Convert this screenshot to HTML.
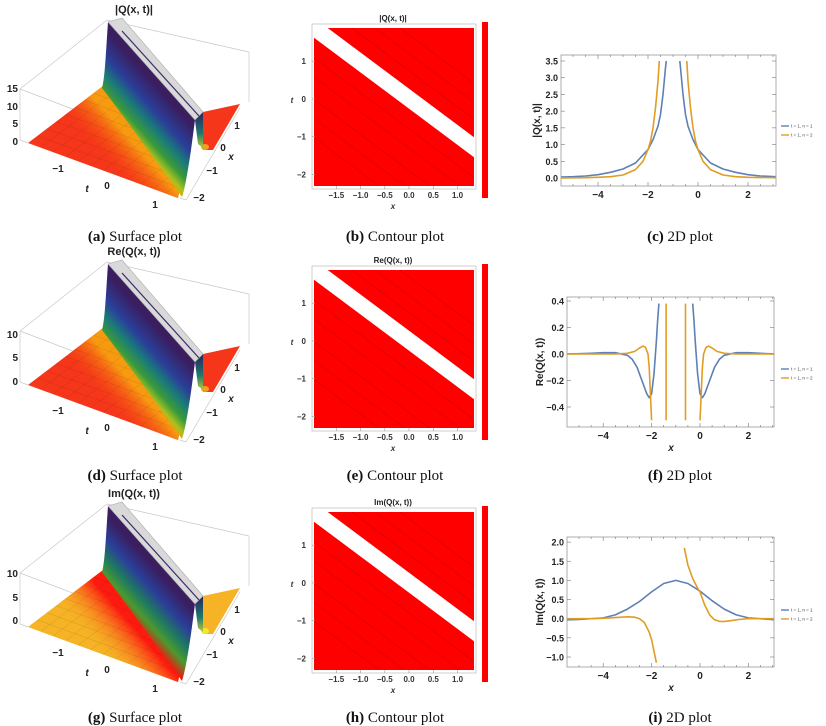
<!DOCTYPE html>
<html><head><meta charset="utf-8">
<style>
html,body{margin:0;padding:0;background:#fff;}
#root{position:relative;width:826px;height:726px;overflow:hidden;font-family:"Liberation Sans",sans-serif;}
svg{position:absolute;left:0;top:0;}
.cap{font-family:"Liberation Serif",serif;font-size:15px;fill:#111;}
.tk{font-family:"Liberation Sans",sans-serif;font-weight:bold;font-size:10px;fill:#222;}
.tk9{font-family:"Liberation Sans",sans-serif;font-weight:bold;font-size:9px;fill:#222;}
.tks{font-family:"Liberation Sans",sans-serif;font-weight:bold;font-size:8px;fill:#333;}
</style></head>
<body>
<div id="root">
<svg id="fig" width="826" height="726" viewBox="0 0 826 726">
<defs>
<linearGradient id="wallg" gradientUnits="userSpaceOnUse" x1="122" y1="148" x2="172" y2="103">
<stop offset="0" stop-color="#ff4a10"/><stop offset="0.12" stop-color="#f8a000"/><stop offset="0.25" stop-color="#a8c020"/><stop offset="0.38" stop-color="#3a9a3a"/><stop offset="0.55" stop-color="#1a7a7a"/><stop offset="0.72" stop-color="#2a3f99"/><stop offset="1" stop-color="#3a1e60"/>
</linearGradient>
<linearGradient id="wallg2" gradientUnits="userSpaceOnUse" x1="122" y1="148" x2="172" y2="103">
<stop offset="0" stop-color="#ff1a10"/><stop offset="0.2" stop-color="#e62010"/><stop offset="0.38" stop-color="#4a9a30"/><stop offset="0.55" stop-color="#1f7a60"/><stop offset="0.75" stop-color="#2a3f99"/><stop offset="1" stop-color="#3a1e60"/>
</linearGradient>
<linearGradient id="slopeR" gradientUnits="userSpaceOnUse" x1="98" y1="155" x2="124" y2="132">
<stop offset="0" stop-color="#f53a12" stop-opacity="0"/><stop offset="1" stop-color="#f79a10"/>
</linearGradient>
<linearGradient id="slopeY" gradientUnits="userSpaceOnUse" x1="92" y1="160" x2="124" y2="132">
<stop offset="0" stop-color="#f5b325" stop-opacity="0"/><stop offset="1" stop-color="#ff1a10"/>
</linearGradient>
<linearGradient id="darkface" x1="0" y1="0" x2="0" y2="1">
<stop offset="0" stop-color="#2a2060"/><stop offset="0.6" stop-color="#1d7a70"/><stop offset="1" stop-color="#c0c830"/>
</linearGradient>
<clipPath id="floorclip"><polygon points="28,143 103,86 110,80 188,150 178,198"/></clipPath>
<clipPath id="clipC"><rect x="561" y="55" width="215" height="131"/></clipPath>
<clipPath id="clipF"><rect x="567" y="297" width="207" height="130"/></clipPath>
<clipPath id="clipI"><rect x="567" y="537" width="207" height="130"/></clipPath>
</defs>
</svg>
</div>
<script>
// ---------- data: contour band (data coords t = slope*x + offset) ----------
const bandSlope = -0.96;
const bandOffsets = [-0.26, 0.27];
const contourLevelOffsets = [-2.9, -2.4, -1.9, -1.3, -0.8, 0.75, 1.2, 1.7];
const contourXTicks = [-1.5, -1.0, -0.5, 0.0, 0.5, 1.0];
const contourTTicks = [1, 0, -1, -2];

// ---------- data: panel (c) |Q| ----------
const cBlueLX = [-5.5,-5,-4.5,-4,-3.5,-3,-2.5,-2,-1.8,-1.6,-1.5,-1.4,-1.3,-1.27];
const cBlueLY = [0.03,0.04,0.06,0.1,0.17,0.27,0.45,0.85,1.15,1.55,1.9,2.5,3.3,3.5];
const cBlueRX = [-0.73,-0.7,-0.6,-0.5,-0.4,-0.2,0,0.5,1,1.5,2,2.5,3.1];
const cBlueRY = [3.5,3.3,2.5,1.9,1.55,1.15,0.85,0.45,0.27,0.17,0.1,0.06,0.04];
const cOrLX = [-5.5,-4.5,-4,-3.5,-3,-2.5,-2.2,-2,-1.9,-1.8,-1.7,-1.6,-1.55];
const cOrLY = [0,0.01,0.02,0.04,0.09,0.25,0.5,0.85,1.1,1.5,2.1,2.9,3.5];
const cOrRX = [-0.45,-0.4,-0.3,-0.2,-0.1,0,0.2,0.5,1,1.5,2,3.1];
const cOrRY = [3.5,2.9,2.1,1.5,1.1,0.85,0.5,0.25,0.09,0.04,0.02,0.01];
const cYTicks = [0.0,0.5,1.0,1.5,2.0,2.5,3.0,3.5];

// ---------- data: panel (f) Re ----------
const fBlueLX = [-5.5,-4.5,-4,-3.5,-3,-2.8,-2.6,-2.4,-2.2,-2.1,-2.0,-1.9,-1.8,-1.75,-1.7];
const fBlueLY = [0,0.005,0.01,0.01,-0.01,-0.04,-0.1,-0.2,-0.3,-0.33,-0.3,-0.15,0.1,0.25,0.38];
const fBlueRX = [-0.3,-0.25,-0.2,-0.1,0,0.1,0.2,0.4,0.6,0.8,1,1.5,2,2.5,3.1];
const fBlueRY = [0.38,0.25,0.1,-0.15,-0.3,-0.33,-0.3,-0.2,-0.1,-0.04,-0.01,0.01,0.01,0.005,0];
const fOrLX = [-5.5,-3.5,-3,-2.7,-2.5,-2.35,-2.25,-2.15,-2.1,-2.05,-2.0];
const fOrLY = [0,0,0.005,0.02,0.045,0.06,0.05,0,-0.1,-0.3,-0.5];
const fOrRX = [0,0.05,0.1,0.15,0.25,0.35,0.5,0.7,1,1.5,3.1];
const fOrRY = [-0.5,-0.3,-0.1,0,0.05,0.06,0.045,0.02,0.005,0,0];
const fOrSpikeX = [-1.4, -0.6];
const fOrSpikeY = [0.38, -0.5];
const fYTicks = [-0.4,-0.2,0.0,0.2,0.4];

// ---------- data: panel (i) Im ----------
const iBlueX = [-5.5,-5,-4,-3.5,-3,-2.5,-2,-1.5,-1,-0.5,0,0.5,1,1.5,2,3.1];
const iBlueY = [-0.03,-0.02,0.02,0.1,0.25,0.45,0.7,0.92,1.0,0.92,0.72,0.47,0.25,0.1,0.02,-0.03];
const iOrLX = [-5.5,-4.5,-4,-3.5,-3,-2.7,-2.5,-2.3,-2.1,-2,-1.9,-1.8];
const iOrLY = [0,0,0.01,0.03,0.05,0.04,0,-0.1,-0.35,-0.55,-0.85,-1.15];
const iOrRX = [-0.65,-0.5,-0.3,-0.1,0,0.2,0.4,0.6,0.8,1,1.3,1.6,2,3.1];
const iOrRY = [1.85,1.4,1.05,0.8,0.7,0.35,0.1,-0.03,-0.07,-0.07,-0.05,-0.02,0,0];
const iYTicks = [-1.0,-0.5,0.0,0.5,1.0,1.5,2.0];
const xTicks2D = [-4,-2,0,2];
const legendLabels = ["t = 1, n = 1","t = 1, n = 2"];

const NS = "http://www.w3.org/2000/svg";
const fig = document.getElementById('fig');
function mk(tag, attrs, parent, text){
  const e = document.createElementNS(NS, tag);
  for (const k in attrs) e.setAttribute(k, attrs[k]);
  if (text !== undefined) e.textContent = text;
  (parent || fig).appendChild(e);
  return e;
}
function grp(name, tr){
  const g = mk('g', tr ? {transform: tr} : {});
  
  
  return g;
}

// ---------------- captions ----------------
const caps = [
  ["(a)"," Surface plot",135,241],["(b)"," Contour plot",395,241],["(c)"," 2D plot",680,241],
  ["(d)"," Surface plot",135,480],["(e)"," Contour plot",395,480],["(f)"," 2D plot",680,480],
  ["(g)"," Surface plot",135,722],["(h)"," Contour plot",395,722],["(i)"," 2D plot",680,722]];
caps.forEach(c => {
  const t = mk('text', {x:c[2], y:c[3], 'text-anchor':'middle', class:'cap'});
  
  
  mk('tspan', {'font-weight':'bold'}, t, c[0]);
  mk('tspan', {}, t, c[1]);
});

// ---------------- surface plots ----------------
function surface(dy, key, title, zt, zy, yellowFloor){
  const g = grp('surface-plot-' + key, 'translate(0,' + dy + ')');
  const box = [[20,89,107,20],[107,20,249,52],[249,52,249,102],[20,89,20,140],[20,140,28,143],[180,198,186,200],[186,200,240,108],[20,89,180,150]];
  box.forEach(b => { const l = mk('line',{x1:b[0],y1:b[1],x2:b[2],y2:b[3],stroke:'#c8c8c8','stroke-width':0.7},g);
      });
  const floorCol = yellowFloor ? '#f5b325' : '#f5361a';
  const fl = mk('polygon',{points:'28,143 103,86 110,80 188,150 178,198', fill:floorCol},g);
   
  const sl = mk('polygon',{points:'28,143 103,86 188,150 178,198', fill: yellowFloor ? 'url(#slopeY)' : 'url(#slopeR)'},g);
   
  // mesh grid
  const mg = mk('g',{'clip-path':'url(#floorclip)'},g);
  for (let k=1;k<12;k++){
    const a = k/12;
    const m = mk('line',{x1:28+150*a,y1:143+55*a,x2:28+150*a+95,y2:143+55*a-72,stroke:'rgba(0,0,0,0.13)','stroke-width':0.5},mg);
     
  }
  for (let k=1;k<8;k++){
    const a = k/8;
    const m = mk('line',{x1:28+75*a,y1:143-57*a,x2:28+75*a+170,y2:143-57*a+62,stroke:'rgba(0,0,0,0.13)','stroke-width':0.5},mg);
     
  }
  const w = mk('path',{d:'M102,88 C105,78 106,50 108,22 L195,120 L191,150 C188,170 185,188 182,197 C155,160 125,118 102,88 Z', fill: yellowFloor ? 'url(#wallg2)' : 'url(#wallg)'},g);
   
  const rf = mk('polygon',{points:'203,112 240,104 213,150 203,150', fill: yellowFloor ? '#f5b325' : '#f5361a'},g);
   
  const dip = mk('ellipse',{cx:205,cy:147,rx:4,ry:3,fill: yellowFloor ? '#f2e830' : '#f0a020'},g);
   
  const df = mk('polygon',{points:'195,120 203,112 203,148 198,144', fill:'url(#darkface)'},g);
   
  const st = mk('polygon',{points:'108,22 122,18 203,112 195,120', fill:'#d9d9d9', stroke:'#aaa','stroke-width':0.6},g);
   
  const dl = mk('line',{x1:122,y1:31,x2:199,y2:116,stroke:'#3a2a6a','stroke-width':1.2},g);
   
  const tt = mk('text',{x:134,y:13,'text-anchor':'middle','font-size':'11','font-weight':'bold',fill:'#222'},g,title);
   
  zt.forEach((s,i) => { const t = mk('text',{x:18,y:zy[i]+4,'text-anchor':'end',class:'tk'},g,s);
      });
  [['\u22121',58,172],['0',107,189],['1',155,208]].forEach(a => { const t = mk('text',{x:a[1],y:a[2],'text-anchor':'middle',class:'tk'},g,a[0]);
      });
  [['1',237,129],['0',223,151],['\u22121',212,174],['\u22122',199,201]].forEach(a => { const t = mk('text',{x:a[1],y:a[2],'text-anchor':'middle',class:'tk'},g,a[0]);
      });
  const tl = mk('text',{x:87,y:192,'text-anchor':'middle',class:'tk','font-style':'italic'},g,'t');
   
  const xl = mk('text',{x:231,y:160,'text-anchor':'middle',class:'tk','font-style':'italic'},g,'x');
   
}
surface(0,'a','|Q(x, t)|',['15','10','5','0'],[88,106,123,141],false);
surface(242,'d','Re(Q(x, t))',['10','5','0'],[92,115,139],false);
surface(484,'g','Im(Q(x, t))',['10','5','0'],[89,113,136],true);

// ---------------- contour plots ----------------
function contour(dy, key, title){
  const g = grp('contour-plot-' + key, 'translate(0,' + dy + ')');
  const L=314, R=474, T=28, B=186;
  const xmin=-1.96, xmax=1.34, tmin=-2.31, tmax=1.88;
  const sx = v => L + (v - xmin)/(xmax - xmin)*(R-L);
  const st = v => B - (v - tmin)/(tmax - tmin)*(B-T);
  const fr = mk('rect',{x:312,y:24,width:164,height:165,fill:'none',stroke:'#bbb','stroke-width':0.7},g);
   
  const bg = mk('rect',{x:L,y:T,width:R-L,height:B-T,fill:'#ff0000'},g);
   
  const cp = mk('clipPath',{id:'cc'+key},g); mk('rect',{x:L,y:T,width:R-L,height:B-T},cp);
  const cg = mk('g',{'clip-path':'url(#cc'+key+')'},g);
  contourLevelOffsets.forEach(c => {
    const l = mk('line',{x1:sx(xmin),y1:st(bandSlope*xmin+c),x2:sx(xmax),y2:st(bandSlope*xmax+c),stroke:'rgba(90,0,0,0.35)','stroke-width':0.5},cg);
     
  });
  const lo = bandOffsets[0], hi = bandOffsets[1];
  const band = mk('polygon',{points:[[xmin-1,bandSlope*(xmin-1)+lo],[xmin-1,bandSlope*(xmin-1)+hi],[xmax+1,bandSlope*(xmax+1)+hi],[xmax+1,bandSlope*(xmax+1)+lo]].map(p=>sx(p[0])+','+st(p[1])).join(' '),fill:'#fff'},cg);
   
  contourXTicks.forEach(v => {
    const t = mk('text',{x:sx(v),y:198,'text-anchor':'middle',class:'tks'},g,(v<0?'\u2212':'')+Math.abs(v).toFixed(1));
     
    mk('line',{x1:sx(v),y1:189,x2:sx(v),y2:186,stroke:'#999','stroke-width':0.6},g);
  });
  contourTTicks.forEach(v => {
    const t = mk('text',{x:306,y:st(v)+3,'text-anchor':'end',class:'tks'},g,(v<0?'\u2212':'')+Math.abs(v));
     
    mk('line',{x1:312,y1:st(v),x2:315,y2:st(v),stroke:'#999','stroke-width':0.6},g);
  });
  const xl = mk('text',{x:393,y:209,'text-anchor':'middle',class:'tks','font-style':'italic'},g,'x');
   
  const tl = mk('text',{x:292,y:103,'text-anchor':'middle',class:'tks','font-style':'italic'},g,'t');
   
  const ti = mk('text',{x:393,y:21,'text-anchor':'middle','font-size':'8','font-weight':'bold',fill:'#222'},g,title);
   
  const cb = mk('rect',{x:482,y:22,width:6,height:176,fill:'#ff0000'},g);
   
}
contour(0,'b','|Q(x, t)|');
contour(242,'e','Re(Q(x, t))');
contour(484,'h','Im(Q(x, t))');

// ---------------- 2D plots ----------------
function plot2d(key, L, R, T, B, x0px, xs, y0px, ys, yTicks, ylab, ylabX, series, clip, xlabel, legY){
  const g = grp('line-plot-' + key);
  const sx = v => x0px + v*xs;
  const sy = v => y0px - v*ys;
  const fr = mk('rect',{x:L,y:T,width:R-L,height:B-T,fill:'none',stroke:'#999','stroke-width':0.8},g);
   
  for (let v=-5; v<=3; v+=0.5){
    const len = Number.isInteger(v/2) ? 4 : 2;
    mk('line',{x1:sx(v),y1:B,x2:sx(v),y2:B-len,stroke:'#777','stroke-width':0.6},g);
    mk('line',{x1:sx(v),y1:T,x2:sx(v),y2:T+len,stroke:'#777','stroke-width':0.6},g);
  }
  xTicks2D.forEach(v => {
    const t = mk('text',{x:sx(v),y:B+12,'text-anchor':'middle',class:'tk'},g,(v<0?'\u2212':'')+Math.abs(v));
     
  });
  yTicks.forEach(v => {
    const t = mk('text',{x:L-3,y:sy(v)+3.5,'text-anchor':'end',class:'tk9'},g,(v<0?'\u2212':'')+Math.abs(v).toFixed(1));
     
    mk('line',{x1:L,y1:sy(v),x2:L+4,y2:sy(v),stroke:'#777','stroke-width':0.6},g);
    mk('line',{x1:R,y1:sy(v),x2:R-4,y2:sy(v),stroke:'#777','stroke-width':0.6},g);
  });
  const yl = mk('text',{x:0,y:0,transform:'translate('+ylabX+','+((T+B)/2)+') rotate(-90)','text-anchor':'middle',class:'tk','font-size':'10'},g,ylab);
   
  if (xlabel){ const xl = mk('text',{x:671,y:B+24,'text-anchor':'middle',class:'tk','font-style':'italic'},g,'x');
      }
  const cg = mk('g',{'clip-path':'url(#'+clip+')'},g);
  series.forEach(s => {
    const d = s.x.map((v,i)=>(i?'L':'M')+sx(v).toFixed(1)+','+sy(s.y[i]).toFixed(1)).join(' ');
    const p = mk('path',{d:d,fill:'none',stroke:s.c,'stroke-width':1.6,'stroke-linejoin':'round'},cg);
     
  });
  legendLabels.forEach((lab,i) => {
    const yy = legY + i*9;
    const l = mk('line',{x1:781,y1:yy,x2:789,y2:yy,stroke:i?'#e19c24':'#5e81b5','stroke-width':1.4},g);
     
    const t = mk('text',{x:791,y:yy+1.5,'font-size':'4.5',fill:'#444'},g,lab);
     
  });
}
const B='#5e81b5', O='#e19c24';
plot2d('c',561,776,55,186,698,25,178,33.43,cYTicks,'|Q(x, t)|',540,[
  {x:cBlueLX,y:cBlueLY,c:B,name:'series-n1-left'},{x:cBlueRX,y:cBlueRY,c:B,name:'series-n1-right'},
  {x:cOrLX,y:cOrLY,c:O,name:'series-n2-left'},{x:cOrRX,y:cOrRY,c:O,name:'series-n2-right'}],'clipC',false,126);
const fSeries = [
  {x:fBlueLX,y:fBlueLY,c:B,name:'series-n1-left'},{x:fBlueRX,y:fBlueRY,c:B,name:'series-n1-right'},
  {x:fOrLX,y:fOrLY,c:O,name:'series-n2-left'},{x:fOrRX,y:fOrRY,c:O,name:'series-n2-right'}];
fOrSpikeX.forEach(v => fSeries.push({x:[v,v],y:fOrSpikeY,c:O,name:'series-n2-spike'}));
plot2d('f',567,774,297,427,700,24.2,354,132.5,fYTicks,'Re(Q(x, t))',543,fSeries,'clipF',true,369);
plot2d('i',567,774,537,667,700,24.2,618.7,38.3,iYTicks,'Im(Q(x, t))',543,[
  {x:iBlueX,y:iBlueY,c:B,name:'series-n1'},
  {x:iOrLX,y:iOrLY,c:O,name:'series-n2-left'},{x:iOrRX,y:iOrRY,c:O,name:'series-n2-right'}],'clipI',true,610);
</script>
</body></html>
